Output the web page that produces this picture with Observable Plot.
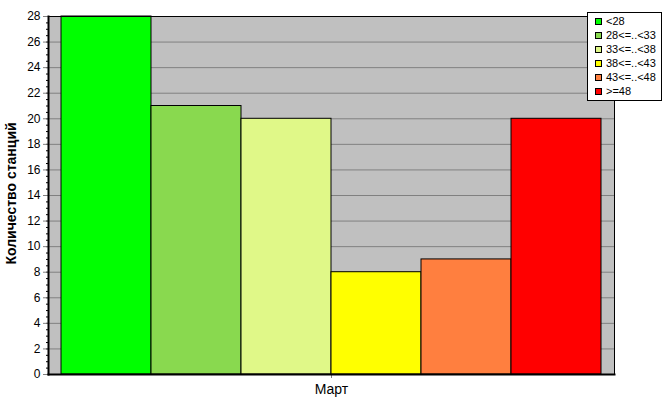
<!DOCTYPE html>
<html>
<head>
<meta charset="utf-8">
<script src="https://cdn.jsdelivr.net/npm/d3@7"></script>
<script src="https://cdn.jsdelivr.net/npm/@observablehq/plot@0.6"></script>
<style>
  html, body { margin: 0; padding: 0; background: #fff; }
  #wrap { position: relative; width: 667px; height: 415px; font-family: "Liberation Sans", Arial, sans-serif; }
  #legend { position: absolute; left: 587px; top: 12px; width: 75px; height: 89px; background: #fff; border: 1px solid #000; box-sizing: border-box; padding: 1px 0 0 7px; }
  .item { height: 14px; display: flex; align-items: center; font-size: 11px; color: #000; }
  .sw { width: 5px; height: 5px; border: 1px solid #000; margin-right: 4px; }
</style>
</head>
<body>
<div id="wrap"></div>
<script>
const month = "Март";
const categories = ["<28", "28<=..<33", "33<=..<38", "38<=..<43", "43<=..<48", ">=48"];
const values = [28, 21, 20, 8, 9, 20];
const colors = ["#00ff00", "#89d94f", "#e0f888", "#ffff00", "#ff7f3f", "#ff0000"];
const yLabel = "Количество станций";
const yTicks = d3.range(0, 29, 2);
const yMinorTicks = d3.range(0, 28.01, 0.5);

const data = categories.map((c, i) => ({month, cls: c, value: values[i]}));

const chart = Plot.plot({
  width: 667,
  height: 415,
  marginLeft: 48,
  marginRight: 53,
  marginTop: 16,
  marginBottom: 41,
  style: {fontFamily: "'Liberation Sans', Arial, sans-serif", fontSize: "11px", background: "#fff"},
  fx: {padding: 0, label: null},
  x: {domain: categories, paddingInner: 0, paddingOuter: 0.144, axis: null},
  y: {domain: [0, 28], label: null},
  color: {domain: categories, range: colors},
  marks: [
    Plot.frame({fill: "#c0c0c0"}),
    Plot.gridY(yTicks, {stroke: "#808080", strokeOpacity: 1}),
    Plot.axisY(yMinorTicks, {tickSize: 2, text: null, stroke: "#000", strokeOpacity: 1}),
    Plot.axisY(yTicks, {tickSize: 5, tickPadding: 3, stroke: "#808080", strokeOpacity: 1, fill: "#000", fontSize: 12, label: null}),
    Plot.axisFx({anchor: "bottom", tickSize: 4, tickPadding: 6, stroke: "#808080", fontSize: 14, label: null}),
    Plot.barY(data, {fx: "month", x: "cls", y: "value", fill: "cls", stroke: "#000", strokeWidth: 1}),
    Plot.frame({stroke: "#000", strokeWidth: 1}),
    Plot.frame({anchor: "left", stroke: "#000", strokeWidth: 2}),
    Plot.frame({anchor: "bottom", stroke: "#000", strokeWidth: 2}),
    Plot.text([yLabel], {frameAnchor: "left", textAnchor: "middle", dx: -37, dy: -2, rotate: -90, fontWeight: "bold", fontSize: 14, fill: "#000"})
  ]
});
const wrap = document.getElementById("wrap");
wrap.appendChild(chart);

const legend = document.createElement("div");
legend.id = "legend";
categories.forEach((c, i) => {
  const it = document.createElement("div");
  it.className = "item";
  const sw = document.createElement("span");
  sw.className = "sw";
  sw.style.background = colors[i];
  it.appendChild(sw);
  it.appendChild(document.createTextNode(c));
  legend.appendChild(it);
});
wrap.appendChild(legend);
</script>
</body>
</html>
